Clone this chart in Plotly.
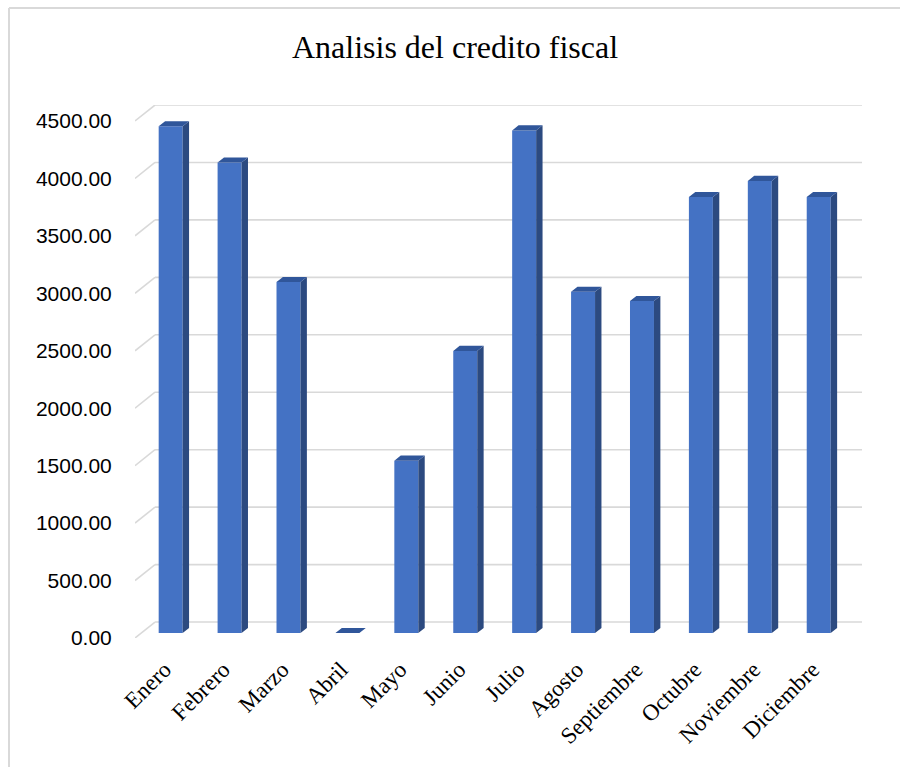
import plotly.graph_objects as go

months = ["Enero", "Febrero", "Marzo", "Abril", "Mayo", "Junio", "Julio",
          "Agosto", "Septiembre", "Octubre", "Noviembre", "Diciembre"]
credito = [4410, 4095, 3055, 0, 1500, 2455, 4375, 2970, 2890, 3795, 3935, 3795]
y_ticks = [0, 500, 1000, 1500, 2000, 2500, 3000, 3500, 4000, 4500]
y_tick_text = ["%.2f" % t for t in y_ticks]
title_text = "Analisis del credito fiscal"

# 3D projection parameters (data units)
DX = 0.34      # full wall depth along x
DY = 139.0     # full wall depth along y
F0, F1 = 0.31, 0.63   # bar depth span as fraction of wall depth
BW = 0.407     # bar front width
Y_MAX = 4500 + DY

FRONT = "#4472C4"
SIDE = "#2C4A80"
TOP = "#30569A"
GRID = "#D9D9D9"

idx = list(range(len(months)))
fig = go.Figure()

# front faces
fig.add_trace(go.Bar(
    x=[i + F0 * DX for i in idx], y=credito, base=[F0 * DY] * len(idx),
    width=BW, marker=dict(color=FRONT, line=dict(width=0)),
    hoverinfo="skip", showlegend=False))

# side and top faces computed from values
sx, sy, tx, ty = [], [], [], []
ddx = (F1 - F0) * DX
ddy = (F1 - F0) * DY
for i, v in zip(idx, credito):
    x0 = i + F0 * DX - BW / 2
    x1 = i + F0 * DX + BW / 2
    b = F0 * DY
    t = v + F0 * DY
    sx += [x1, x1 + ddx, x1 + ddx, x1, x1, None]
    sy += [b, b + ddy, t + ddy, t, b, None]
    tx += [x0, x1, x1 + ddx, x0 + ddx, x0, None]
    ty += [t, t, t + ddy, t + ddy, t, None]

fig.add_trace(go.Scatter(x=sx, y=sy, fill="toself", fillcolor=SIDE, mode="lines",
                         line=dict(width=0, color=SIDE), hoverinfo="skip", showlegend=False))
fig.add_trace(go.Scatter(x=tx, y=ty, fill="toself", fillcolor=TOP, mode="lines",
                         line=dict(width=0, color=TOP), hoverinfo="skip", showlegend=False))

shapes = []
xl = -0.5
xr = len(months) - 0.5
for t in y_ticks:
    shapes.append(dict(type="line", xref="x", yref="y", layer="below",
                       x0=xl, y0=t, x1=xl + DX, y1=t + DY,
                       line=dict(color=GRID, width=1.6)))
    shapes.append(dict(type="line", xref="x", yref="y", layer="below",
                       x0=xl + DX, y0=t + DY, x1=xr + DX, y1=t + DY,
                       line=dict(color=GRID, width=1.6)))

# chart border (top and left)
shapes.append(dict(type="line", xref="paper", yref="paper",
                   x0=-0.1733, y0=1.182, x1=1.06, y1=1.182, line=dict(color=GRID, width=2)))
shapes.append(dict(type="line", xref="paper", yref="paper",
                   x0=-0.1733, y0=1.182, x1=-0.1733, y1=-0.25, line=dict(color=GRID, width=2)))

fig.update_layout(
    width=900, height=767,
    margin=dict(l=135, r=38, t=105, b=129, autoexpand=False),
    paper_bgcolor="white", plot_bgcolor="white",
    shapes=shapes,
    title=dict(text=title_text, x=455 / 900, xanchor="center", xref="container",
               y=1 - 47 / 767, yanchor="middle", yref="container",
               font=dict(family="Liberation Serif", size=32, color="#000000")),
    xaxis=dict(range=[xl, xr + DX], tickvals=idx, ticktext=months, tickangle=-45,
               showgrid=False, zeroline=False, showline=False, automargin=False,
               ticks="outside", ticklen=8, tickcolor="rgba(0,0,0,0)",
               tickfont=dict(family="Liberation Serif", size=23, color="#000000")),
    yaxis=dict(range=[0, Y_MAX], tickvals=y_ticks, ticktext=y_tick_text,
               showgrid=False, zeroline=False, showline=False, automargin=False,
               ticks="outside", ticklen=18, tickcolor="rgba(0,0,0,0)",
               tickfont=dict(family="Liberation Sans", size=21, color="#000000")),
    showlegend=False,
)

fig.write_html("out.html", config={"displayModeBar": False},
               post_script="document.body.style.margin='0';document.body.style.overflow='hidden';")
